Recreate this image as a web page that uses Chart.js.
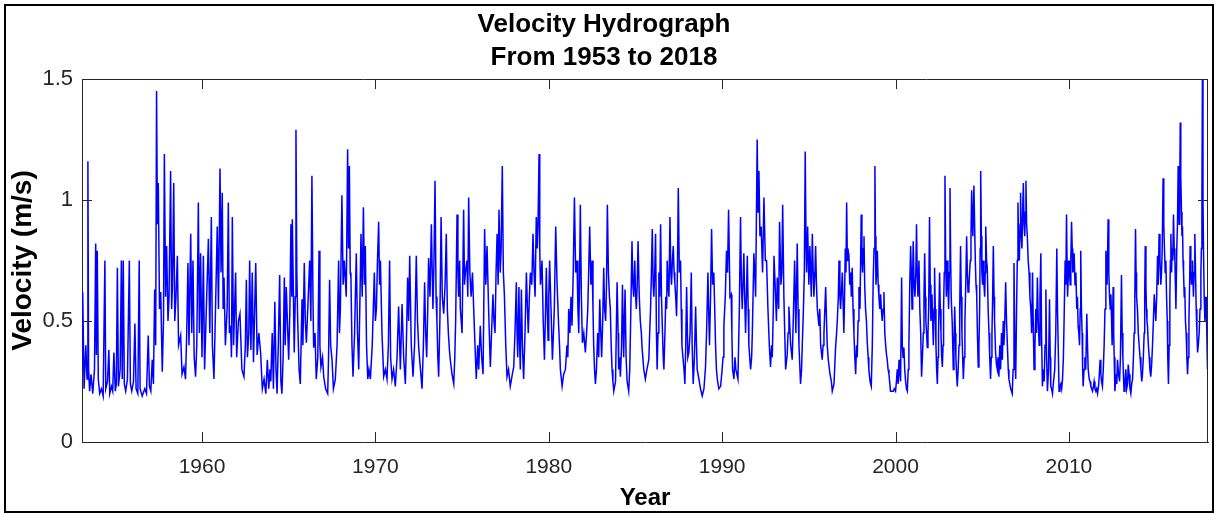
<!DOCTYPE html>
<html lang="en">
<head>
<meta charset="UTF-8">
<title>Velocity Hydrograph</title>
<script src="https://cdn.jsdelivr.net/npm/chart.js@4.4.1/dist/chart.umd.min.js"></script>
<style>
  body { margin: 0; background: #fff; }
  #wrap { position: relative; width: 1215px; height: 513px; }
</style>
</head>
<body>
<div id="wrap"><canvas id="velChart" width="1215" height="513"></canvas></div>

<script>
// title text and axis ticks
var titleLines = ['Velocity Hydrograph', 'From 1953 to 2018'];
var xTicks = [1960, 1970, 1980, 1990, 2000, 2010];
var yTicks = [0, 0.5, 1, 1.5];

var flow1953 = [[1953.00,0.75],[1953.05,0.28],[1953.12,0.62],[1953.20,0.22],[1953.30,0.40],[1953.37,0.26],[1953.42,1.16],[1953.46,0.30],[1953.52,0.21],[1953.60,0.28],[1953.70,0.20],[1953.80,0.30],[1953.87,0.82],[1953.91,0.36],[1953.96,0.79],[1954.02,0.26],[1954.10,0.20],[1954.20,0.22],[1954.30,0.19],[1954.40,0.75],[1954.45,0.22],[1954.55,0.25],[1954.63,0.38],[1954.68,0.20],[1954.78,0.23],[1954.85,0.21],[1954.92,0.37],[1955.00,0.21],[1955.06,0.24],[1955.12,0.72],[1955.18,0.23],[1955.28,0.30],[1955.35,0.75],[1955.40,0.26],[1955.46,0.75],[1955.52,0.24],[1955.60,0.21],[1955.70,0.26],[1955.81,0.75],[1955.87,0.24],[1955.95,0.21],[1956.05,0.25],[1956.13,0.49],[1956.20,0.22],[1956.30,0.20],[1956.38,0.75],[1956.43,0.22],[1956.55,0.19],[1956.70,0.22],[1956.80,0.20],[1956.90,0.44],[1956.97,0.23],[1957.05,0.21],[1957.13,0.34],[1957.20,0.24],[1957.27,0.63],[1957.33,0.40],[1957.38,1.45],[1957.43,0.90],[1957.48,1.07],[1957.55,0.55],[1957.62,0.62],[1957.71,0.29],[1957.78,0.50],[1957.83,1.19],[1957.90,0.60],[1957.96,0.81],[1958.04,0.50],[1958.10,0.60],[1958.19,1.12],[1958.25,0.55],[1958.30,0.65],[1958.37,1.07],[1958.43,0.50],[1958.50,0.60],[1958.58,0.77],[1958.65,0.40],[1958.77,0.44],[1958.85,0.28],[1958.96,0.31],[1959.05,0.26],[1959.12,0.45],[1959.19,0.74],[1959.25,0.40],[1959.35,0.86],[1959.41,0.45],[1959.48,0.75],[1959.55,0.35],[1959.63,0.27],[1959.70,0.40],[1959.79,0.99],[1959.85,0.45],[1959.92,0.78],[1960.00,0.35],[1960.08,0.77],[1960.15,0.30],[1960.25,0.55],[1960.37,0.84],[1960.45,0.45],[1960.54,0.93],[1960.60,0.40],[1960.69,0.26],[1960.78,0.55],[1960.88,0.89],[1960.95,0.55],[1961.04,1.13],[1961.10,0.70],[1961.17,1.03],[1961.22,0.55],[1961.27,0.68],[1961.35,0.40],[1961.45,0.55],[1961.52,0.99],[1961.58,0.45],[1961.65,0.48],[1961.70,0.35],[1961.75,0.93],[1961.82,0.40],[1961.94,0.70],[1962.00,0.35],[1962.10,0.50],[1962.19,0.53],[1962.30,0.30],[1962.42,0.27],[1962.50,0.40],[1962.56,0.67],[1962.62,0.35],[1962.70,0.45],[1962.75,0.75],[1962.82,0.38],[1962.90,0.70],[1962.97,0.33],[1963.10,0.74],[1963.18,0.36],[1963.28,0.45],[1963.38,0.37],[1963.48,0.22],[1963.58,0.26],[1963.68,0.20],[1963.77,0.34],[1963.85,0.22],[1963.92,0.30]];

var flow1964 = [[1963.97,0.25],[1964.05,0.45],[1964.12,0.22],[1964.20,0.58],[1964.27,0.30],[1964.33,0.20],[1964.40,0.40],[1964.48,0.69],[1964.55,0.25],[1964.61,0.20],[1964.68,0.35],[1964.75,0.68],[1964.80,0.40],[1964.86,0.64],[1965.00,0.34],[1965.07,0.55],[1965.13,0.90],[1965.18,0.60],[1965.21,0.92],[1965.32,0.37],[1965.38,0.60],[1965.42,1.29],[1965.47,0.70],[1965.52,0.50],[1965.60,0.30],[1965.67,0.24],[1965.77,0.59],[1965.82,0.40],[1965.90,0.74],[1965.96,0.50],[1966.02,0.41],[1966.10,0.55],[1966.21,0.75],[1966.28,0.50],[1966.34,1.10],[1966.40,0.60],[1966.44,0.39],[1966.52,0.45],[1966.59,0.26],[1966.68,0.35],[1966.75,0.79],[1966.80,0.40],[1966.86,0.31],[1966.95,0.35],[1967.02,0.27],[1967.13,0.22],[1967.25,0.20],[1967.30,0.35],[1967.36,0.67],[1967.42,0.40],[1967.50,0.34],[1967.58,0.22],[1967.69,0.26],[1967.79,0.40],[1967.88,0.75],[1967.93,0.45],[1967.98,0.55],[1968.07,1.02],[1968.14,0.65],[1968.21,0.75],[1968.32,0.60],[1968.40,1.21],[1968.45,0.80],[1968.50,1.14],[1968.55,0.70],[1968.59,0.68],[1968.65,0.40],[1968.71,0.27],[1968.80,0.45],[1968.90,0.78],[1968.97,0.45],[1969.04,0.30],[1969.10,0.55],[1969.17,0.86],[1969.24,0.60],[1969.31,0.97],[1969.37,0.65],[1969.42,0.81],[1969.49,0.40],[1969.56,0.26],[1969.63,0.30],[1969.71,0.26],[1969.82,0.40],[1969.94,0.70],[1970.00,0.50],[1970.06,0.55],[1970.12,0.75],[1970.19,0.91],[1970.24,0.65],[1970.29,0.75],[1970.38,0.45],[1970.48,0.27],[1970.58,0.30],[1970.67,0.26],[1970.75,0.40],[1970.82,0.75],[1970.88,0.35],[1970.96,0.26],[1971.05,0.30],[1971.15,0.23],[1971.25,0.35],[1971.34,0.56],[1971.44,0.30],[1971.54,0.57],[1971.63,0.35],[1971.73,0.24],[1971.80,0.45],[1971.86,0.68],[1971.92,0.50],[1971.98,0.77],[1972.07,0.40],[1972.17,0.27],[1972.26,0.40],[1972.36,0.77],[1972.43,0.50],[1972.50,0.39],[1972.60,0.30],[1972.69,0.22],[1972.77,0.40],[1972.84,0.66],[1972.90,0.45],[1972.96,0.35],[1973.02,0.55],[1973.07,0.76],[1973.15,0.60],[1973.23,0.90],[1973.28,0.70],[1973.32,0.55],[1973.38,0.75],[1973.44,1.08],[1973.50,0.60],[1973.55,0.50],[1973.60,0.35],[1973.65,0.27],[1973.72,0.50],[1973.79,0.93],[1973.86,0.60],[1973.94,0.53],[1974.02,0.65],[1974.09,0.86],[1974.15,0.55],[1974.21,0.45],[1974.27,0.38],[1974.32,0.34],[1974.42,0.28],[1974.52,0.24],[1974.58,0.35],[1974.63,0.50],[1974.71,0.94],[1974.76,0.70],[1974.80,0.60],[1974.86,0.75]];

var flow1975 = [[1974.90,0.55],[1975.00,0.45],[1975.09,0.96],[1975.14,0.65],[1975.19,0.70],[1975.28,0.75],[1975.33,0.60],[1975.38,1.01],[1975.45,0.70],[1975.52,0.60],[1975.60,0.70],[1975.67,0.55],[1975.77,0.35],[1975.82,0.26],[1975.90,0.40],[1975.96,0.30],[1976.05,0.48],[1976.13,0.35],[1976.21,0.28],[1976.30,0.88],[1976.37,0.65],[1976.44,0.81],[1976.53,0.55],[1976.63,0.31],[1976.70,0.45],[1976.78,0.61],[1976.84,0.50],[1976.90,0.45],[1976.96,0.70],[1977.02,0.86],[1977.08,0.65],[1977.13,0.96],[1977.20,0.70],[1977.25,0.79],[1977.32,1.14],[1977.38,0.70],[1977.44,0.61],[1977.52,0.40],[1977.59,0.27],[1977.68,0.30],[1977.78,0.23],[1977.90,0.28],[1977.98,0.31],[1978.05,0.45],[1978.13,0.66],[1978.17,0.45],[1978.21,0.35],[1978.28,0.64],[1978.32,0.40],[1978.36,0.30],[1978.42,0.63],[1978.48,0.40],[1978.55,0.26],[1978.63,0.45],[1978.71,0.70],[1978.77,0.55],[1978.82,0.45],[1978.88,0.60],[1978.94,0.70],[1979.02,0.65],[1979.09,0.86],[1979.15,0.70],[1979.21,0.60],[1979.28,0.93],[1979.34,0.80],[1979.38,0.90],[1979.44,1.19],[1979.48,0.80],[1979.52,0.65],[1979.57,0.70],[1979.61,0.75],[1979.68,0.50],[1979.75,0.34],[1979.80,0.50],[1979.86,0.72],[1979.91,0.55],[1979.96,0.42],[1980.00,0.60],[1980.05,0.75],[1980.13,0.55],[1980.21,0.34],[1980.27,0.45],[1980.32,0.55],[1980.40,0.89],[1980.48,0.65],[1980.57,0.48],[1980.62,0.40],[1980.67,0.30],[1980.77,0.23],[1980.86,0.28],[1980.96,0.30],[1981.05,0.40],[1981.10,0.35],[1981.15,0.55],[1981.22,0.45],[1981.28,0.60],[1981.34,0.48],[1981.41,0.70],[1981.48,1.01],[1981.55,0.70],[1981.63,0.75],[1981.68,0.55],[1981.73,0.45],[1981.78,0.70],[1981.82,0.98],[1981.88,0.60],[1981.94,0.41],[1982.02,0.45],[1982.11,0.37],[1982.18,0.45],[1982.25,0.55],[1982.30,0.70],[1982.36,0.89],[1982.43,0.65],[1982.50,0.75],[1982.55,0.55],[1982.59,0.40],[1982.64,0.30],[1982.69,0.24],[1982.75,0.30],[1982.82,0.45],[1982.88,0.35],[1982.94,0.59],[1983.00,0.45],[1983.05,0.35],[1983.11,0.50],[1983.17,0.72],[1983.22,0.55],[1983.28,0.50],[1983.33,0.65],[1983.38,0.98],[1983.44,0.70],[1983.50,0.60],[1983.55,0.55],[1983.60,0.40],[1983.65,0.30],[1983.70,0.25],[1983.75,0.21],[1983.85,0.25],[1983.94,0.66],[1984.00,0.45],[1984.03,0.30],[1984.08,0.35],[1984.13,0.27],[1984.20,0.40],[1984.25,0.65],[1984.32,0.35],[1984.40,0.63],[1984.46,0.35],[1984.52,0.25],[1984.61,0.21],[1984.67,0.30],[1984.71,0.45],[1984.80,0.83],[1984.85,0.65],[1984.90,0.60],[1984.96,0.75],[1985.01,0.60],[1985.05,0.55],[1985.10,0.65],[1985.15,0.83],[1985.22,0.60],[1985.28,0.50],[1985.34,0.45],[1985.38,0.39],[1985.48,0.30],[1985.57,0.26],[1985.66,0.30],[1985.77,0.34],[1985.82,0.45]];

var flow1986 = [[1985.87,0.55],[1985.92,0.70],[1985.97,0.88],[1986.02,0.65],[1986.06,0.60],[1986.11,0.70],[1986.16,0.86],[1986.21,0.45],[1986.25,0.30],[1986.30,0.45],[1986.35,0.70],[1986.40,0.60],[1986.45,0.90],[1986.50,0.60],[1986.56,0.45],[1986.60,0.35],[1986.64,0.30],[1986.70,0.45],[1986.75,0.60],[1986.80,0.55],[1986.83,0.75],[1986.88,0.65],[1986.93,0.60],[1986.99,0.93],[1987.04,0.70],[1987.08,0.65],[1987.13,0.75],[1987.18,0.81],[1987.23,0.70],[1987.27,0.66],[1987.32,0.60],[1987.37,0.52],[1987.42,0.70],[1987.47,1.05],[1987.53,0.70],[1987.60,0.75],[1987.64,0.55],[1987.68,0.40],[1987.75,0.34],[1987.80,0.30],[1987.85,0.24],[1987.90,0.40],[1987.95,0.64],[1988.02,0.35],[1988.08,0.37],[1988.15,0.45],[1988.22,0.70],[1988.27,0.40],[1988.33,0.24],[1988.40,0.35],[1988.47,0.56],[1988.52,0.40],[1988.56,0.30],[1988.66,0.26],[1988.75,0.22],[1988.85,0.19],[1988.95,0.22],[1989.04,0.31],[1989.10,0.45],[1989.18,0.70],[1989.22,0.55],[1989.27,0.40],[1989.33,0.60],[1989.39,0.88],[1989.45,0.65],[1989.52,0.70],[1989.57,0.55],[1989.62,0.40],[1989.67,0.30],[1989.72,0.26],[1989.81,0.22],[1989.91,0.23],[1990.00,0.30],[1990.05,0.35],[1990.10,0.48],[1990.18,0.60],[1990.25,0.79],[1990.31,0.70],[1990.37,0.96],[1990.45,0.60],[1990.52,0.61],[1990.56,0.45],[1990.60,0.30],[1990.68,0.26],[1990.74,0.35],[1990.79,0.30],[1990.85,0.28],[1990.91,0.26],[1990.99,0.55],[1991.06,0.93],[1991.11,0.65],[1991.16,0.55],[1991.25,0.78],[1991.30,0.60],[1991.35,0.45],[1991.45,0.77],[1991.50,0.55],[1991.54,0.40],[1991.64,0.30],[1991.70,0.35],[1991.74,0.45],[1991.83,0.78],[1991.88,0.70],[1991.93,0.60],[1992.02,1.25],[1992.07,0.95],[1992.12,1.12],[1992.18,0.85],[1992.25,0.89],[1992.33,0.70],[1992.41,1.01],[1992.49,0.75],[1992.56,0.75],[1992.64,0.55],[1992.72,0.40],[1992.79,0.31],[1992.85,0.40],[1992.89,0.35],[1992.95,0.55],[1992.99,0.77],[1993.08,0.60],[1993.13,0.50],[1993.18,0.68],[1993.26,0.55],[1993.31,0.91],[1993.39,0.65],[1993.44,0.70],[1993.49,0.98],[1993.56,0.60],[1993.61,0.45],[1993.66,0.30],[1993.75,0.36],[1993.80,0.45],[1993.85,0.56],[1993.95,0.40],[1994.04,0.34],[1994.10,0.50],[1994.18,0.75],[1994.25,0.45],[1994.33,0.82],[1994.38,0.55],[1994.43,0.40],[1994.52,0.24],[1994.58,0.30],[1994.62,0.40],[1994.68,0.53],[1994.74,0.70],[1994.79,1.20],[1994.84,0.80],[1994.87,0.70],[1994.93,0.89],[1995.00,0.65],[1995.06,0.81],[1995.14,0.60],[1995.20,0.86],[1995.25,0.70],[1995.29,0.60],[1995.35,0.70],[1995.39,0.81],[1995.44,0.65],[1995.49,0.55],[1995.58,0.48],[1995.63,0.55],[1995.68,0.40],[1995.77,0.34],[1995.82,0.40],[1995.87,0.45],[1995.97,0.64],[1996.02,0.50],[1996.06,0.40],[1996.12,0.34],[1996.22,0.28],[1996.30,0.25],[1996.35,0.21],[1996.45,0.24],[1996.54,0.39],[1996.60,0.45],[1996.64,0.50],[1996.70,0.60],[1996.74,0.75],[1996.79,0.60]];

var flow1997 = [[1996.83,0.55],[1996.93,0.70],[1997.02,0.45],[1997.06,0.60],[1997.10,0.80],[1997.14,0.70],[1997.18,0.99],[1997.22,0.75],[1997.25,0.80],[1997.31,0.77],[1997.36,0.65],[1997.41,0.70],[1997.45,0.60],[1997.50,0.72],[1997.55,0.55],[1997.60,0.45],[1997.65,0.35],[1997.70,0.28],[1997.75,0.40],[1997.79,0.35],[1997.84,0.50],[1997.89,0.64],[1997.95,0.55],[1998.02,0.94],[1998.06,0.75],[1998.10,0.70],[1998.14,0.80],[1998.18,0.85],[1998.22,0.65],[1998.27,0.55],[1998.32,0.50],[1998.37,0.41],[1998.42,0.35],[1998.46,0.30],[1998.53,0.25],[1998.60,0.23],[1998.66,0.40],[1998.71,0.67],[1998.76,0.80],[1998.81,1.14],[1998.84,0.85],[1998.87,0.65],[1998.91,0.70],[1998.95,0.79],[1999.00,0.65],[1999.04,0.60],[1999.09,0.55],[1999.14,0.61],[1999.18,0.55],[1999.23,0.50],[1999.28,0.55],[1999.33,0.62],[1999.38,0.45],[1999.43,0.40],[1999.48,0.36],[1999.52,0.34],[1999.57,0.30],[1999.62,0.28],[1999.67,0.24],[1999.71,0.21],[1999.79,0.21],[1999.87,0.21],[1999.93,0.22],[2000.00,0.21],[2000.05,0.25],[2000.10,0.30],[2000.15,0.24],[2000.20,0.34],[2000.25,0.28],[2000.29,0.25],[2000.35,0.68],[2000.39,0.40],[2000.43,0.35],[2000.48,0.39],[2000.53,0.30],[2000.58,0.25],[2000.63,0.22],[2000.68,0.21],[2000.73,0.30],[2000.77,0.40],[2000.82,0.65],[2000.87,0.81],[2000.91,0.70],[2000.95,0.55],[2000.99,0.70],[2001.02,0.83],[2001.07,0.65],[2001.12,0.60],[2001.17,0.70],[2001.21,0.90],[2001.25,0.70],[2001.29,0.60],[2001.35,0.75],[2001.40,0.55],[2001.45,0.45],[2001.50,0.27],[2001.55,0.35],[2001.60,0.45],[2001.64,0.60],[2001.68,0.78],[2001.72,0.60],[2001.75,0.50],[2001.79,0.45],[2001.83,0.39],[2001.87,0.45],[2001.91,0.55],[2001.96,0.93],[2002.00,0.65],[2002.04,0.50],[2002.07,0.55],[2002.10,0.61],[2002.14,0.50],[2002.18,0.40],[2002.22,0.55],[2002.25,0.72],[2002.29,0.55],[2002.33,0.40],[2002.37,0.30],[2002.41,0.24],[2002.45,0.35],[2002.48,0.45],[2002.54,0.70],[2002.58,0.55],[2002.62,0.45],[2002.66,0.35],[2002.70,0.31],[2002.74,0.40],[2002.77,0.55],[2002.81,0.70],[2002.85,1.10],[2002.89,0.75],[2002.93,0.60],[2002.98,0.75],[2003.02,0.65],[2003.06,0.55],[2003.10,0.70],[2003.14,1.05],[2003.18,0.75],[2003.21,0.60],[2003.27,0.49],[2003.33,0.30],[2003.37,0.40],[2003.41,0.56],[2003.45,0.45],[2003.48,0.35],[2003.52,0.28],[2003.56,0.23],[2003.61,0.30],[2003.66,0.40],[2003.70,0.55],[2003.75,0.81],[2003.79,0.60],[2003.83,0.45],[2003.87,0.35],[2003.91,0.26],[2003.96,0.35],[2004.00,0.50],[2004.05,0.65],[2004.10,0.85],[2004.14,0.70],[2004.18,0.62],[2004.23,0.64],[2004.27,0.70],[2004.31,0.75],[2004.35,0.85],[2004.39,1.04],[2004.43,0.90],[2004.46,0.85],[2004.52,1.06],[2004.56,0.90],[2004.60,0.75],[2004.64,0.65],[2004.68,0.61],[2004.72,0.45],[2004.77,0.31],[2004.81,0.40],[2004.85,0.55],[2004.88,0.80],[2004.91,1.12],[2004.95,0.85],[2004.98,0.70],[2005.02,0.65],[2005.06,0.75],[2005.10,0.65],[2005.14,0.60],[2005.17,0.70],[2005.20,0.89],[2005.25,0.75],[2005.29,0.72],[2005.34,0.55],[2005.39,0.45],[2005.43,0.35],[2005.48,0.26],[2005.52,0.35],[2005.56,0.45],[2005.60,0.60],[2005.64,0.81],[2005.68,0.60],[2005.71,0.50],[2005.77,0.37],[2005.82,0.32],[2005.87,0.30],[2005.91,0.35],[2005.96,0.27],[2006.01,0.40],[2006.06,0.30],[2006.11,0.45],[2006.16,0.34],[2006.21,0.50],[2006.25,0.40],[2006.30,0.50],[2006.35,0.66],[2006.40,0.50],[2006.45,0.40],[2006.50,0.30],[2006.54,0.26],[2006.59,0.24],[2006.64,0.22],[2006.69,0.21],[2006.73,0.20],[2006.78,0.30],[2006.83,0.74],[2006.88,0.40],[2006.93,0.26],[2006.98,0.55],[2007.02,0.75],[2007.06,0.99],[2007.10,0.80],[2007.14,0.75],[2007.18,0.90],[2007.21,1.03],[2007.25,0.85],[2007.29,0.80],[2007.33,0.95],[2007.37,1.07],[2007.41,0.90],[2007.45,0.85],[2007.49,0.95],[2007.52,1.08],[2007.56,0.90],[2007.60,0.85],[2007.65,0.75],[2007.70,0.70],[2007.75,0.60]];

var flow2008 = [[2007.80,0.55],[2007.85,0.45],[2007.90,0.70],[2007.95,0.45],[2007.99,0.30],[2008.04,0.40],[2008.09,0.55],[2008.13,0.45],[2008.18,0.68],[2008.23,0.50],[2008.28,0.40],[2008.33,0.60],[2008.38,0.78],[2008.42,0.45],[2008.47,0.23],[2008.52,0.30],[2008.57,0.25],[2008.62,0.40],[2008.67,0.63],[2008.71,0.35],[2008.76,0.21],[2008.82,0.30],[2008.88,0.59],[2008.92,0.35],[2008.95,0.23],[2009.00,0.22],[2009.05,0.20],[2009.10,0.24],[2009.18,0.30],[2009.24,0.45],[2009.30,0.80],[2009.34,0.55],[2009.38,0.40],[2009.43,0.21],[2009.48,0.23],[2009.53,0.24],[2009.58,0.22],[2009.63,0.26],[2009.68,0.35],[2009.72,0.50],[2009.78,0.75],[2009.82,0.65],[2009.86,0.94],[2009.89,0.75],[2009.92,0.60],[2009.97,0.70],[2010.01,0.75],[2010.04,0.70],[2010.07,0.65],[2010.11,0.75],[2010.15,0.91],[2010.19,0.80],[2010.22,0.70],[2010.26,0.72],[2010.30,0.78],[2010.35,0.65],[2010.40,0.70],[2010.45,0.55],[2010.49,0.60],[2010.53,0.48],[2010.57,0.45],[2010.61,0.40],[2010.65,0.55],[2010.68,0.79],[2010.72,0.55],[2010.76,0.45],[2010.79,0.30],[2010.82,0.23],[2010.87,0.30],[2010.92,0.35],[2010.97,0.30],[2011.03,0.53],[2011.07,0.40],[2011.11,0.30],[2011.17,0.26],[2011.22,0.25],[2011.26,0.23],[2011.31,0.22],[2011.36,0.21],[2011.41,0.23],[2011.45,0.25],[2011.50,0.22],[2011.55,0.21],[2011.60,0.22],[2011.65,0.20],[2011.72,0.24],[2011.80,0.34],[2011.84,0.28],[2011.88,0.25],[2011.93,0.23],[2011.98,0.30],[2012.03,0.40],[2012.08,0.55],[2012.13,0.79],[2012.17,0.70],[2012.20,0.65],[2012.26,0.92],[2012.30,0.70],[2012.34,0.60],[2012.38,0.55],[2012.42,0.61],[2012.46,0.50],[2012.49,0.40],[2012.55,0.64],[2012.58,0.45],[2012.61,0.35],[2012.65,0.21],[2012.72,0.28],[2012.76,0.24],[2012.80,0.34],[2012.86,0.28],[2012.92,0.25],[2012.97,0.35],[2013.03,0.69],[2013.07,0.45],[2013.11,0.35],[2013.15,0.26],[2013.18,0.21],[2013.23,0.25],[2013.28,0.30],[2013.33,0.22],[2013.38,0.24],[2013.42,0.32],[2013.47,0.28],[2013.52,0.22],[2013.57,0.20],[2013.62,0.24],[2013.67,0.26],[2013.72,0.35],[2013.76,0.45],[2013.80,0.60],[2013.84,0.88],[2013.87,0.70],[2013.90,0.60],[2013.95,0.55],[2014.00,0.45],[2014.05,0.40],[2014.10,0.35],[2014.15,0.30],[2014.20,0.25],[2014.24,0.28],[2014.29,0.35],[2014.34,0.45],[2014.37,0.60],[2014.40,0.81],[2014.44,0.65],[2014.47,0.55],[2014.50,0.50],[2014.53,0.48],[2014.58,0.40],[2014.63,0.35],[2014.67,0.30],[2014.72,0.27],[2014.77,0.32],[2014.82,0.40],[2014.87,0.50],[2014.92,0.61],[2014.97,0.55],[2015.01,0.50],[2015.06,0.60],[2015.11,0.77],[2015.15,0.65],[2015.20,0.86],[2015.25,0.75],[2015.30,0.65],[2015.34,0.70],[2015.38,0.80],[2015.43,1.09],[2015.47,0.90],[2015.51,0.80],[2015.55,0.70],[2015.59,0.75],[2015.63,0.60],[2015.67,0.50],[2015.70,0.35],[2015.74,0.24],[2015.78,0.40],[2015.82,0.60],[2015.85,0.75],[2015.88,0.86],[2015.92,0.70],[2015.95,0.80],[2015.99,0.75],[2016.03,0.94],[2016.07,0.80],[2016.11,0.75],[2016.14,0.65],[2016.17,0.55],[2016.22,0.80],[2016.26,0.90],[2016.30,1.14],[2016.33,0.95],[2016.36,0.90],[2016.39,1.05],[2016.42,1.32],[2016.45,1.10],[2016.49,0.95],[2016.52,0.85],[2016.55,0.89],[2016.58,0.75],[2016.61,0.70],[2016.65,0.60],[2016.68,0.64],[2016.72,0.50],[2016.76,0.45],[2016.80,0.35],[2016.84,0.28],[2016.88,0.35],[2016.92,0.50],[2016.96,0.65],[2016.99,0.81],[2017.03,0.70],[2017.07,0.65],[2017.10,0.70],[2017.13,0.75],[2017.16,0.65],[2017.18,0.60],[2017.22,0.70],[2017.26,0.86],[2017.30,0.70],[2017.34,0.55],[2017.38,0.45],[2017.42,0.37],[2017.46,0.40],[2017.51,0.45],[2017.56,0.55],[2017.61,0.70],[2017.64,0.80],[2017.67,1.00],[2017.70,1.55],[2017.73,1.00],[2017.76,0.80],[2017.80,0.60],[2017.84,0.50],[2017.88,0.55],[2017.92,0.60],[2017.95,0.45],[2017.99,0.30],[2018.03,0.40],[2018.07,0.45]];

var flowSegments = [flow1953, flow1964, flow1975, flow1986, flow1997, flow2008];

var points = [];
flowSegments.forEach(function(seg) {
    seg.forEach(function(p) { points.push({x: p[0], y: p[1]}); });
});

var fontFamily = "'Liberation Sans', Arial, Helvetica, sans-serif";
var axisColor = '#262626';

// matlab style box: top/right lines, inward ticks, outer frame
var boxPlugin = {
    id: 'matlabBox',
    beforeDraw: function(chart) {
        var ctx = chart.ctx;
        ctx.save();
        ctx.fillStyle = '#ffffff';
        ctx.fillRect(0, 0, chart.width, chart.height);
        ctx.restore();
    },
    afterDraw: function(chart) {
        var ctx = chart.ctx;
        var a = chart.chartArea;
        var xs = chart.scales.x, ys = chart.scales.y;
        var len = 10;
        ctx.save();
        ctx.strokeStyle = axisColor;
        ctx.lineWidth = 1;
        ctx.beginPath();
        ctx.moveTo(a.left, a.top + 0.5);
        ctx.lineTo(a.right, a.top + 0.5);
        ctx.moveTo(a.right - 0.5, a.top);
        ctx.lineTo(a.right - 0.5, a.bottom);
        xTicks.forEach(function(v) {
            var px = Math.round(xs.getPixelForValue(v)) + 0.5;
            ctx.moveTo(px, a.bottom);
            ctx.lineTo(px, a.bottom - len);
            ctx.moveTo(px, a.top);
            ctx.lineTo(px, a.top + len);
        });
        yTicks.forEach(function(v) {
            var py = Math.round(ys.getPixelForValue(v)) + 0.5;
            ctx.moveTo(a.left, py);
            ctx.lineTo(a.left + len, py);
            ctx.moveTo(a.right, py);
            ctx.lineTo(a.right - len, py);
        });
        ctx.stroke();

        ctx.strokeStyle = '#000000';
        ctx.lineWidth = 2;
        ctx.strokeRect(5, 5, chart.width - 7, chart.height - 6);
        ctx.restore();
    }
};

new Chart(document.getElementById('velChart'), {
    type: 'line',
    data: {
        datasets: [{
            label: 'Velocity',
            data: points,
            borderColor: '#0000ff',
            borderWidth: 1.5,
            pointRadius: 0,
            tension: 0,
            fill: false
        }]
    },
    options: {
        responsive: false,
        animation: false,
        parsing: false,
        events: [],
        layout: { padding: { left: 0, right: 7, top: 0, bottom: 0 } },
        plugins: {
            legend: { display: false },
            tooltip: { enabled: false },
            title: {
                display: true,
                text: titleLines,
                color: '#000000',
                font: { family: fontFamily, size: 26, weight: 'bold', lineHeight: '33px' },
                padding: { top: 8, bottom: 5 }
            }
        },
        scales: {
            x: {
                type: 'linear',
                min: 1953.08,
                max: 2018.02,
                afterBuildTicks: function(scale) {
                    scale.ticks = xTicks.map(function(v) { return {value: v}; });
                },
                afterFit: function(scale) { scale.height = 71; },
                grid: { drawOnChartArea: false, drawTicks: false },
                border: { display: true, color: axisColor, width: 1 },
                ticks: {
                    color: axisColor,
                    padding: 13,
                    autoSkip: false,
                    maxRotation: 0,
                    font: { family: fontFamily, size: 21 },
                    callback: function(v) { return String(v); }
                },
                title: {
                    display: true,
                    text: 'Year',
                    color: '#000000',
                    font: { family: fontFamily, size: 24, weight: 'bold' },
                    padding: { top: 0, bottom: 0 }
                }
            },
            y: {
                type: 'linear',
                min: 0,
                max: 1.5,
                afterBuildTicks: function(scale) {
                    scale.ticks = yTicks.map(function(v) { return {value: v}; });
                },
                afterFit: function(scale) { scale.width = 82; },
                grid: { drawOnChartArea: false, drawTicks: false },
                border: { display: true, color: axisColor, width: 1 },
                ticks: {
                    color: axisColor,
                    padding: 9,
                    font: { family: fontFamily, size: 22 },
                    callback: function(v) { return String(v); }
                },
                title: {
                    display: true,
                    text: 'Velocity (m/s)',
                    color: '#000000',
                    font: { family: fontFamily, size: 28, weight: 'bold' },
                    padding: { top: 6, bottom: 0 }
                }
            }
        }
    },
    plugins: [boxPlugin]
});
</script>
</body>
</html>
